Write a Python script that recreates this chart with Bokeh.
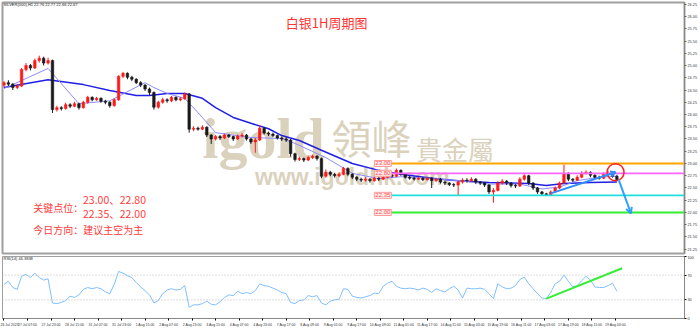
from bokeh.plotting import figure
from bokeh.layouts import column
from bokeh.models import (ColumnDataSource, Range1d, FixedTicker, Label, Span, Arrow,
                          OpenHead, NumeralTickFormatter)
from bokeh.embed import file_html
from bokeh.resources import INLINE

# ---------------- data (3-hour candles) ----------------
opens = [24.60, 24.65, 24.62, 24.55, 24.58, 24.92, 25.00, 24.95, 25.10, 25.15,
         25.05, 25.10, 24.10, 24.14, 24.12, 24.20, 24.17, 24.22, 24.14, 24.25,
         24.35, 24.30, 24.33, 24.27, 24.25, 24.18, 24.30, 24.78, 24.84, 24.76,
         24.72, 24.65, 24.60, 24.52, 24.45, 24.15, 24.25, 24.30, 24.28, 24.35,
         24.30, 24.32, 24.42, 23.70, 23.72, 23.70, 23.74, 23.58, 23.50, 23.55,
         23.52, 23.58, 23.55, 23.50, 23.56, 23.58, 23.50, 23.44, 23.48, 23.72,
         23.62, 23.60, 23.57, 23.52, 23.50, 23.48, 23.20, 23.08, 23.10, 23.07,
         23.12, 23.15, 23.10, 22.74, 22.82, 22.78, 22.75, 22.78, 22.90, 22.78,
         22.72, 22.68, 22.66, 22.68, 22.65, 22.70, 22.68, 22.72, 22.76, 22.74,
         22.86, 22.78, 22.72, 22.70, 22.68, 22.70, 22.67, 22.70, 22.65, 22.68,
         22.62, 22.60, 22.57, 22.56, 22.62, 22.66, 22.65, 22.68, 22.62, 22.60,
         22.56, 22.42, 22.45, 22.60, 22.64, 22.60, 22.55, 22.54, 22.68, 22.75,
         22.60, 22.50, 22.42, 22.38, 22.36, 22.42, 22.50, 22.60, 22.80, 22.68,
         22.66, 22.72, 22.80, 22.82, 22.76, 22.72, 22.70, 22.78, 22.80, 22.74]
closes = [24.65, 24.62, 24.55, 24.58, 24.92, 25.00, 24.95, 25.10, 25.15, 25.05,
          25.10, 24.10, 24.14, 24.12, 24.20, 24.17, 24.22, 24.14, 24.25, 24.35,
          24.30, 24.33, 24.27, 24.25, 24.18, 24.30, 24.78, 24.84, 24.76, 24.72,
          24.65, 24.60, 24.52, 24.45, 24.15, 24.25, 24.30, 24.28, 24.35, 24.30,
          24.32, 24.42, 23.70, 23.72, 23.70, 23.74, 23.58, 23.50, 23.55, 23.52,
          23.58, 23.55, 23.50, 23.56, 23.58, 23.50, 23.44, 23.48, 23.72, 23.62,
          23.60, 23.57, 23.52, 23.50, 23.48, 23.20, 23.08, 23.10, 23.07, 23.12,
          23.15, 23.10, 22.74, 22.82, 22.78, 22.75, 22.78, 22.90, 22.78, 22.72,
          22.68, 22.66, 22.68, 22.65, 22.70, 22.68, 22.72, 22.76, 22.74, 22.86,
          22.78, 22.72, 22.70, 22.68, 22.70, 22.67, 22.70, 22.65, 22.68, 22.62,
          22.60, 22.57, 22.56, 22.62, 22.66, 22.65, 22.68, 22.62, 22.60, 22.56,
          22.42, 22.45, 22.60, 22.64, 22.60, 22.55, 22.54, 22.68, 22.75, 22.60,
          22.50, 22.42, 22.38, 22.36, 22.42, 22.50, 22.60, 22.80, 22.68, 22.66,
          22.72, 22.80, 22.82, 22.76, 22.72, 22.70, 22.78, 22.80, 22.74, 22.67]
highs = [24.68, 24.70, 24.64, 24.62, 24.95, 25.05, 25.03, 25.14, 25.20, 25.18,
         25.16, 25.12, 24.18, 24.17, 24.24, 24.23, 24.26, 24.24, 24.28, 24.38,
         24.37, 24.36, 24.35, 24.30, 24.27, 24.33, 24.80, 24.87, 24.86, 24.79,
         24.74, 24.68, 24.62, 24.55, 24.47, 24.28, 24.34, 24.33, 24.38, 24.37,
         24.36, 24.45, 24.44, 23.76, 23.75, 23.78, 23.76, 23.60, 23.58, 23.58,
         23.61, 23.60, 23.57, 23.59, 23.62, 23.60, 23.52, 23.52, 23.78, 23.74,
         23.65, 23.63, 23.59, 23.55, 23.54, 23.50, 23.22, 23.14, 23.12, 23.16,
         23.18, 23.17, 23.12, 22.88, 22.85, 22.81, 22.82, 22.93, 22.92, 22.80,
         22.74, 22.71, 22.72, 22.70, 22.73, 22.72, 22.76, 22.80, 22.79, 22.90,
         22.88, 22.80, 22.75, 22.73, 22.73, 22.72, 22.73, 22.72, 22.71, 22.70,
         22.65, 22.62, 22.60, 22.65, 22.70, 22.70, 22.72, 22.70, 22.64, 22.62,
         22.58, 22.50, 22.64, 22.68, 22.66, 22.62, 22.58, 22.72, 22.78, 22.77,
         22.62, 22.52, 22.44, 22.40, 22.45, 22.53, 22.63, 22.98, 22.82, 22.70,
         22.76, 22.84, 22.86, 22.84, 22.78, 22.75, 22.82, 22.85, 22.83, 22.77]
lows = [24.55, 24.58, 24.50, 24.52, 24.56, 24.88, 24.90, 24.93, 25.06, 25.00,
        25.02, 24.03, 24.06, 24.08, 24.10, 24.13, 24.15, 24.10, 24.12, 24.22,
        24.27, 24.28, 24.24, 24.21, 24.14, 24.16, 24.28, 24.74, 24.72, 24.68,
        24.62, 24.56, 24.48, 24.40, 24.10, 24.12, 24.22, 24.24, 24.25, 24.27,
        24.27, 24.30, 23.63, 23.66, 23.67, 23.68, 23.54, 23.40, 23.47, 23.48,
        23.50, 23.52, 23.46, 23.48, 23.53, 23.47, 23.40, 23.22, 23.46, 23.59,
        23.56, 23.54, 23.49, 23.46, 23.44, 23.14, 23.04, 23.05, 23.03, 23.05,
        23.09, 23.06, 22.70, 22.71, 22.74, 22.71, 22.72, 22.76, 22.74, 22.68,
        22.64, 22.62, 22.63, 22.61, 22.63, 22.64, 22.66, 22.70, 22.71, 22.72,
        22.75, 22.69, 22.67, 22.65, 22.66, 22.64, 22.65, 22.50, 22.62, 22.59,
        22.56, 22.54, 22.52, 22.35, 22.59, 22.61, 22.62, 22.58, 22.56, 22.52,
        22.38, 22.20, 22.43, 22.57, 22.56, 22.51, 22.50, 22.52, 22.65, 22.56,
        22.46, 22.38, 22.35, 22.34, 22.34, 22.40, 22.48, 22.58, 22.64, 22.62,
        22.64, 22.70, 22.77, 22.72, 22.68, 22.67, 22.68, 22.75, 22.71, 22.66]

# moving averages read at selected bars (bar index, value)
ma_slow_bar = [0, 10, 18, 24, 30, 33, 37, 41, 45, 48, 52, 56, 60, 63, 67, 72, 79, 85, 90, 98, 103, 110, 119, 123, 127, 133, 139]
ma_slow_val = [24.55, 24.71, 24.61, 24.49, 24.39, 24.39, 24.43, 24.43, 24.33, 24.14, 23.94, 23.82, 23.71, 23.57,
               23.47, 23.27, 23.00, 22.86, 22.78, 22.69, 22.65, 22.61, 22.59, 22.55, 22.59, 22.61, 22.62]
ma_fast_bar = [0, 10, 17, 24, 32, 34, 37, 41, 45, 48, 56, 63, 66, 73, 79, 85, 90, 96, 103, 110, 117, 122, 126, 130, 135, 139]
ma_fast_val = [24.53, 24.94, 24.22, 24.28, 24.65, 24.55, 24.43, 24.33, 23.94, 23.63, 23.53, 23.51, 23.41, 23.12,
               22.80, 22.69, 22.73, 22.70, 22.65, 22.58, 22.58, 22.48, 22.52, 22.65, 22.72, 22.74]

rsi = [55, 60, 50, 47, 68, 71, 66, 73, 66, 62, 64, 25, 24, 26, 29, 36, 34, 38, 47, 50,
       48, 50, 48, 43, 40, 55, 76, 73, 69, 66, 58, 51, 45, 38, 25, 29, 40, 46, 48, 46,
       47, 53, 18, 22, 22, 24, 28, 23, 22, 27, 34, 38, 37, 44, 40, 42, 40, 45, 56, 53,
       52, 49, 46, 42, 40, 26, 24, 29, 30, 37, 35, 37, 25, 22, 28, 30, 31, 48, 47, 36,
       34, 33, 35, 37, 41, 40, 52, 57, 60, 52, 49, 48, 49, 48, 46, 49, 47, 42, 48, 45,
       43, 48, 52, 46, 33, 49, 48, 48, 49, 47, 40, 32, 56, 51, 48, 49, 53, 63, 67, 56,
       48, 40, 33, 32, 42, 56, 60, 70, 60, 51, 53, 61, 68, 62, 51, 50, 50, 53, 57, 44]

levels = [23.00, 22.80, 22.35, 22.00]
level_labels = ["23.00", "22.80", "22.35", "22.00"]
level_colors = ["#ffa500", "#ff66ff", "#22dddd", "#33ee33"]

price_ticks = [26.25, 26.00, 25.75, 25.50, 25.25, 25.00, 24.75, 24.50, 24.25, 24.00, 23.75,
               23.50, 23.25, 23.00, 22.75, 22.50, 22.25, 22.00, 21.75, 21.50, 21.25]
rsi_ticks = [0, 30, 70, 100]
date_labels = ["26 Jul 2023", "27 Jul 07:00", "27 Jul 23:00", "28 Jul 15:00", "31 Jul 07:00",
               "31 Jul 23:00", "1 Aug 15:00", "2 Aug 07:00", "2 Aug 23:00", "3 Aug 15:00",
               "4 Aug 07:00", "4 Aug 23:00", "7 Aug 17:00", "8 Aug 09:00", "9 Aug 01:00",
               "9 Aug 17:00", "10 Aug 09:00", "11 Aug 01:00", "11 Aug 17:00", "14 Aug 11:00",
               "15 Aug 03:00", "15 Aug 19:00", "16 Aug 11:00", "17 Aug 03:00", "17 Aug 19:00",
               "18 Aug 11:00", "19 Aug 03:00"]

# trend annotations (bar index, value)
trend_bar = [124, 138.7]
trend_val = [22.39, 22.82]
down_bar = [139.4, 142.2]
down_val = [22.67, 21.98]
rsi_trend_bar = [123, 140.2]
rsi_trend_val = [32, 81]

# ---------------- geometry helpers ----------------
HOURS_PER_BAR = 3
X0, X1 = -1, 463
PXH = 686.0 / (X1 - X0)
Y0, Y1 = 21.163, 26.286


def hx(px):
    return (px - 2) / PXH + X0


def py(pyv):
    return 23.0 - (pyv - 163) / 49.0


N = len(closes)
xs = [HOURS_PER_BAR * i for i in range(N)]
cols = []
for o, c in zip(opens, closes):
    if c > o:
        cols.append("#ff1a1a")
    elif c < o:
        cols.append("#1a1a1a")
    else:
        cols.append("#00c000")
src = ColumnDataSource(dict(x=xs, o=opens, c=closes, h=highs, l=lows,
                            top=[max(a, b) for a, b in zip(opens, closes)],
                            bot=[min(a, b) for a, b in zip(opens, closes)], col=cols))

xr = Range1d(X0, X1)
FONT = "Liberation Sans"
CJK = "Noto Sans CJK SC"

main = figure(width=700, height=255, x_range=xr, y_range=Range1d(Y0, Y1),
              output_backend="svg", toolbar_location=None, y_axis_location="right",
              x_axis_location=None, min_border_left=2, min_border_top=2,
              min_border_bottom=2, min_border_right=12)
main.grid.visible = False
main.outline_line_color = "#a0a0a0"
main.outline_line_width = 2
main.background_fill_color = "white"
main.border_fill_color = "white"

ya = main.yaxis[0]
ya.ticker = FixedTicker(ticks=price_ticks)
ya.formatter = NumeralTickFormatter(format="0.00")
ya.major_label_text_font = FONT
ya.major_label_text_font_size = "3.8px"
ya.major_label_text_color = "#333333"
ya.major_tick_out = 2
ya.major_tick_in = 0
ya.minor_tick_out = 0
ya.minor_tick_in = 0
ya.major_label_standoff = 1
ya.axis_line_color = "#888888"
ya.major_tick_line_color = "#666666"

# watermark
wm = "#dbd2bd"
main.add_layout(Label(x=hx(203), y=py(171), text="igold", text_font="Liberation Serif",
                      text_font_style="bold", text_font_size="58px", text_color=wm, level="underlay"))
main.add_layout(Label(x=hx(333), y=py(166), text="領峰", text_font="Noto Sans CJK TC",
                      text_font_size="40px", text_color=wm, level="underlay"))
main.add_layout(Label(x=hx(418), y=py(167), text="貴金屬", text_font="Noto Sans CJK TC",
                      text_font_size="26px", text_color=wm, level="underlay"))
main.add_layout(Label(x=hx(256), y=py(190), text="www.igoldhk.com", text_font=FONT,
                      text_font_style="bold", text_font_size="23px", text_color=wm, level="underlay"))

# moving averages
main.line([HOURS_PER_BAR * b for b in ma_slow_bar], ma_slow_val, line_color="#1f1fe6", line_width=1.5)
main.line([HOURS_PER_BAR * b for b in ma_fast_bar], ma_fast_val, line_color="#8c8cff", line_width=1)

# candles
main.segment(x0="x", x1="x", y0="l", y1="h", source=src, line_color="col", line_width=1)
main.vbar(x="x", width=1.7, top="top", bottom="bot", source=src, fill_color="col",
          line_color="col", line_width=0.6)

# horizontal levels
lvl_start = hx(393)
main.segment(x0=[lvl_start] * len(levels), x1=[X1] * len(levels), y0=levels, y1=levels,
             line_color=level_colors, line_width=1.8)
for lv, lt in zip(levels, level_labels):
    main.add_layout(Label(x=hx(376), y=lv, text=lt, text_font=FONT, text_font_size="6px",
                          text_color="#ff4d4d", text_baseline="middle",
                          background_fill_color="#ffecec", background_fill_alpha=1.0,
                          border_line_color="#ff9a9a", padding=1))

# trend line + arrows
tb = [HOURS_PER_BAR * b for b in trend_bar]
main.add_layout(Arrow(x_start=tb[0], y_start=trend_val[0], x_end=tb[1], y_end=trend_val[1],
                      line_color="#2f8fff", line_width=2,
                      end=OpenHead(size=5, line_color="#2f8fff", line_width=2)))
db = [HOURS_PER_BAR * b for b in down_bar]
main.add_layout(Arrow(x_start=db[0], y_start=down_val[0], x_end=db[1], y_end=down_val[1],
                      line_color="#2f9fff", line_width=2,
                      end=OpenHead(size=6, line_color="#2f9fff", line_width=2)))
main.scatter([tb[1]], [trend_val[1]], size=17, fill_alpha=0, line_color="#ff2020", line_width=1.5)

# texts
main.add_layout(Label(x=hx(3), y=py(4), text="SILVER(000),H1  22.76 22.77 22.66 22.67",
                      text_font=FONT, text_font_size="4px", text_color="#222222",
                      text_baseline="middle"))
main.add_layout(Label(x=hx(328), y=py(22), text="白银1H周期图", text_font=CJK,
                      text_font_size="13px", text_color="#ff3333", text_align="center",
                      text_baseline="middle"))
red = "#ff3b3b"
main.add_layout(Label(x=hx(33), y=py(207), text="关键点位：", text_font=CJK, text_font_size="10px",
                      text_color=red, text_baseline="middle"))
main.add_layout(Label(x=hx(83), y=py(199), text="23.00、22.80", text_font=CJK, text_font_size="10.5px",
                      text_color=red, text_baseline="middle"))
main.add_layout(Label(x=hx(83), y=py(213), text="22.35、22.00", text_font=CJK, text_font_size="10.5px",
                      text_color=red, text_baseline="middle"))
main.add_layout(Label(x=hx(33), y=py(229), text="今日方向：建议主空为主", text_font=CJK,
                      text_font_size="10px", text_color=red, text_baseline="middle"))

# current price box on axis
main.add_layout(Label(x=X1, y=closes[-1], x_offset=1, text="%.2f" % closes[-1], text_font=FONT,
                      text_font_size="4px", text_color="white", text_baseline="middle",
                      background_fill_color="black", padding=1))

# ---------------- RSI pane ----------------
rp = figure(width=700, height=74, x_range=xr, y_range=Range1d(0, 100),
            output_backend="svg", toolbar_location=None, y_axis_location="right",
            min_border_left=2, min_border_top=1, min_border_bottom=11, min_border_right=12)
rp.grid.visible = False
rp.outline_line_color = "#a0a0a0"
rp.outline_line_width = 1
for lv in (70, 30):
    rp.add_layout(Span(location=lv, dimension="width", line_color="#b8b8b8", line_dash="1 2",
                       line_width=1))
rp.line(xs, rsi, line_color="#7fbfff", line_width=1)
rtb = [HOURS_PER_BAR * b for b in rsi_trend_bar]
rp.line(rtb, rsi_trend_val, line_color="#33ee33", line_width=2)
rp.add_layout(Label(x=hx(3), y=96, text="RSI(14) 44.3838", text_font=FONT, text_font_size="4px",
                    text_color="#222222", text_baseline="middle"))

ry = rp.yaxis[0]
ry.ticker = FixedTicker(ticks=rsi_ticks)
ry.major_label_text_font = FONT
ry.major_label_text_font_size = "3.8px"
ry.major_label_text_color = "#333333"
ry.major_tick_out = 2
ry.major_tick_in = 0
ry.minor_tick_out = 0
ry.minor_tick_in = 0
ry.major_label_standoff = 1
ry.axis_line_color = "#888888"

tick_hours = [16 * k for k in range(len(date_labels))]
rx = rp.xaxis[0]
rx.ticker = FixedTicker(ticks=tick_hours)
rx.major_label_overrides = {t: lab for t, lab in zip(tick_hours, date_labels)}
rx.major_label_text_align = "left"
rx.major_label_text_font = FONT
rx.major_label_text_font_size = "3.5px"
rx.major_label_text_color = "#333333"
rx.major_tick_out = 2
rx.major_tick_in = 0
rx.minor_tick_out = 0
rx.minor_tick_in = 0
rx.major_label_standoff = 2
rx.axis_line_color = "#888888"

layout = column(main, rp, spacing=0)
open("out.html", "w").write(file_html(layout, INLINE))
